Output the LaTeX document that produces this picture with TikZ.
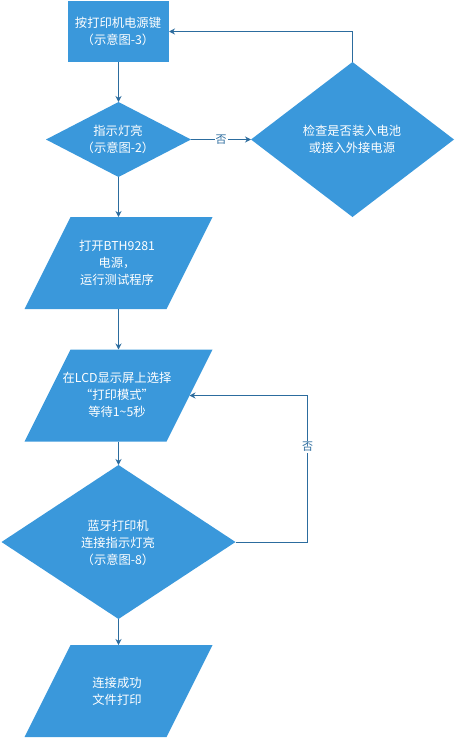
\documentclass[tikz,border=0pt]{standalone}
\usepackage{fontspec}
\setmainfont{Noto Sans CJK SC}
\usetikzlibrary{shapes.geometric,arrows.meta,calc}
\definecolor{boxfill}{HTML}{3A98DB}
\definecolor{linec}{HTML}{2C6C9E}
\tikzset{
  base/.style={fill=boxfill,draw=none,inner sep=0pt,outer sep=0pt},
  procbox/.style={base,rectangle,minimum width=101pt,minimum height=61pt},
  decision/.style={base,diamond},
  iobox/.style={rectangle,draw=none,inner sep=0pt,outer sep=0pt,minimum width=188pt,minimum height=92pt},
  txt/.style={text=white,align=center,font=\fontsize{12.3}{17.2}\selectfont,inner sep=0pt},
  arr/.style={draw=linec,line width=1pt,-{Stealth[length=6pt,width=6pt]}},
  lbl/.style={fill=white,text=linec,font=\fontsize{11}{13}\selectfont,inner sep=1pt}
}
\newcommand{\parafill}[1]{\fill[boxfill] ([xshift=46pt]#1.north west) -- (#1.north east) -- ([xshift=-46pt]#1.south east) -- (#1.south west) -- cycle;}
\begin{document}
\begin{tikzpicture}[x=1pt,y=-1pt]
\useasboundingbox (0,0) rectangle (456,739);
% shapes
\node[procbox] (b1) at (118.5,31.5) {};
\node[decision,minimum width=145pt,minimum height=75pt] (d1) at (118.5,139.5) {};
\node[decision,minimum width=203pt,minimum height=155pt] (d3) at (352.5,139.5) {};
\node[iobox] (p1) at (118.5,263) {};
\node[iobox] (p2) at (118.5,395.5) {};
\node[decision,minimum width=234pt,minimum height=154pt] (d2) at (118.5,542) {};
\node[iobox] (p3) at (118.5,691) {};
\parafill{p1}
\parafill{p2}
\parafill{p3}
\coordinate (p2e) at ([xshift=-23pt]p2.east);
% texts
\node[txt] (t1) at (118,31) {按打印机电源键\\（示意图-3）};
\node[txt] (t2) at (118,139) {指示灯亮\\（示意图-2）};
\node[txt] (t3) at (352,139) {检查是否装入电池\\或接入外接电源};
\node[txt] (t4) at (117,263) {打开BTH9281\\电源，\\运行测试程序};
\node[txt] (t5) at (117,395) {在LCD显示屏上选择\\“打印模式”\\等待1\textasciitilde5秒};
\node[txt] (t6) at (118,543) {蓝牙打印机\\连接指示灯亮\\（示意图-8）};
\node[txt] (t7) at (117,691) {连接成功\\文件打印};
% connectors
\draw[arr] (b1.south) -- (d1.north);
\draw[arr] (d1.south) -- (p1.north);
\draw[arr] (p1.south) -- (p2.north);
\draw[arr] (p2.south) -- (d2.north);
\draw[arr] (d2.south) -- (p3.north);
\draw[arr] (d1.east) -- node[lbl] (n1) {否} (d3.west);
\draw[arr] (d3.north) |- (b1.east);
\draw[arr] (d2.east) -- ($(d2.east)+(72,0)$) coordinate (k) |- node[lbl,pos=0.325] (n2) {否} (p2e);
\end{tikzpicture}
\end{document}
